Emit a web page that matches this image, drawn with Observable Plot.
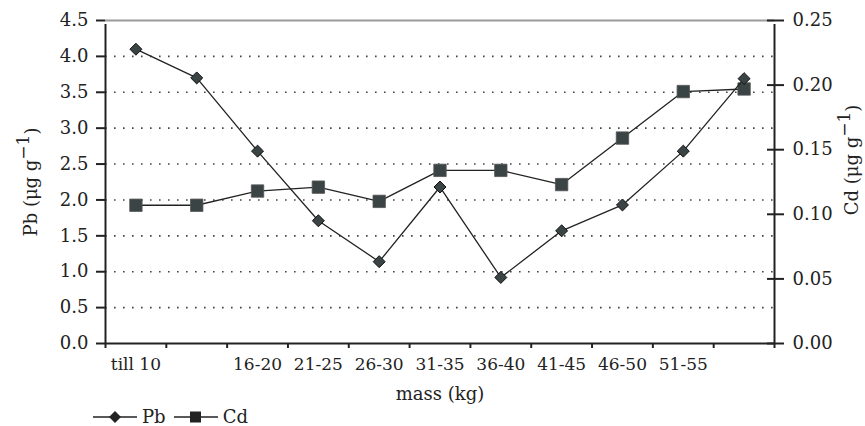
<!DOCTYPE html>
<html>
<head>
<meta charset="utf-8">
<script src="https://cdn.jsdelivr.net/npm/d3@7"></script>
<script src="https://cdn.jsdelivr.net/npm/@observablehq/plot@0.6"></script>
<style>
  html, body { margin: 0; padding: 0; background: #fff; }
  #legend { height: 18px; font-family: 'DejaVu Serif', serif; font-size: 18px; color: #222; display: flex; align-items: center; padding-left: 93px; }
  #legend span { margin: 0 8px 0 5px; line-height: 18px; }
</style>
</head>
<body>
<div id="chart"></div>
<div id="legend"></div>
<script>
const categories = ["till 10","11-15","16-20","21-25","26-30","31-35","36-40","41-45","46-50","51-55","56-60"];
const tickLabels = ["till 10","","16-20","21-25","26-30","31-35","36-40","41-45","46-50","51-55",""];
const pbValues = [4.1, 3.7, 2.68, 1.71, 1.14, 2.18, 0.92, 1.57, 1.93, 2.68, 3.69];
const cdValues = [0.107, 0.107, 0.118, 0.121, 0.110, 0.134, 0.134, 0.123, 0.159, 0.195, 0.197];
const pbTicks = [0, 0.5, 1.0, 1.5, 2.0, 2.5, 3.0, 3.5, 4.0, 4.5];
const cdTicks = [0, 0.05, 0.10, 0.15, 0.20, 0.25];
const unitLabels = {pb: "Pb (μg g⁻¹)", cd: "Cd (μg g⁻¹)"};
const pbMax = 4.5, cdMax = 0.25;
const k = pbMax / cdMax;

const rows = categories.map((c, i) => ({x: i + 0.5, name: c, pb: pbValues[i], cd: cdValues[i]}));
const boundaries = d3.range(categories.length + 1);
const centers = categories.map((c, i) => i + 0.5);

const ink = "#222";
const fillC = "#3a4444";
const blank = () => "";

const chart = Plot.plot({
  width: 865,
  height: 408,
  marginLeft: 105,
  marginRight: 91,
  marginTop: 20,
  marginBottom: 65,
  style: {fontFamily: "'DejaVu Serif', serif", fontSize: "17px", color: ink, background: "#fff"},
  x: {type: "linear", domain: [0, categories.length], label: null},
  y: {type: "linear", domain: [0, pbMax], label: null},
  marks: [
    Plot.gridY(pbTicks.filter(v => v > 0 && v < pbMax), {stroke: "#444", strokeOpacity: 1, strokeWidth: 1.6, strokeDasharray: "1.6,7.4"}),
    Plot.ruleY([pbMax], {stroke: "#9a9a9a", strokeWidth: 2}),
    Plot.ruleY([0], {stroke: ink, strokeWidth: 2}),
    Plot.ruleX([0, categories.length], {y1: 0, y2: pbMax, stroke: ink, strokeWidth: 2, insetBottom: -4}),
    Plot.axisX(boundaries, {tickSize: 5, stroke: ink, strokeWidth: 2, tickFormat: blank, label: null}),
    Plot.axisX(centers, {tickSize: 0, tickPadding: 14, fontSize: 17, tickFormat: d => tickLabels[Math.round(d - 0.5)], label: null}),
    Plot.axisY(pbTicks, {anchor: "left", tickSize: 9, tickPadding: 8, stroke: ink, strokeWidth: 2, fontSize: 18, tickFormat: d => d.toFixed(1), label: null}),
    Plot.axisY(cdTicks.map(v => v * k), {anchor: "right", tickSize: 17, dx: -8, stroke: ink, strokeWidth: 2, tickFormat: blank, label: null}),
    Plot.axisY(cdTicks.map(v => v * k), {anchor: "right", tickSize: 0, tickPadding: 18, fontSize: 18, tickFormat: d => (d / k).toFixed(2), label: null}),
    Plot.line(rows, {x: "x", y: d => d.cd * k, stroke: ink, strokeWidth: 1.3}),
    Plot.dot(rows, {x: "x", y: d => d.cd * k, symbol: "square", r: 7, fill: fillC, stroke: "#555", strokeWidth: 0.8}),
    Plot.line(rows, {x: "x", y: "pb", stroke: ink, strokeWidth: 1.3}),
    Plot.dot(rows, {x: "x", y: "pb", symbol: "diamond2", r: 5.4, fill: fillC, stroke: "#111", strokeWidth: 1}),
    Plot.text([unitLabels.pb], {text: d => d, frameAnchor: "left", textAnchor: "middle", dx: -74, rotate: -90, fontSize: 18, fill: ink}),
    Plot.text([unitLabels.cd], {text: d => d, frameAnchor: "right", textAnchor: "middle", dx: 78, dy: -22, rotate: -90, fontSize: 18, fill: ink}),
    Plot.text(["mass (kg)"], {text: d => d, frameAnchor: "bottom", dy: 56, fontSize: 18, fill: ink})
  ]
});
document.getElementById("chart").appendChild(chart);

// render the "-1" exponent as a raised, full-size superscript like the original
d3.select(chart).selectAll("text").each(function () {
  const t = this.textContent;
  if (t === unitLabels.pb || t === unitLabels.cd) {
    const base = t.replace("⁻¹)", "");
    const el = d3.select(this);
    el.text(null);
    el.append("tspan").text(base);
    el.append("tspan").attr("dy", "-0.5em").attr("font-size", 17).text("−1");
    el.append("tspan").attr("dy", "0.5em").text(")");
  }
});

// legend
const legend = document.getElementById("legend");
const series = [{name: "Pb", symbol: "diamond"}, {name: "Cd", symbol: "square"}];
series.forEach(s => {
  const svg = d3.create("svg").attr("width", 44).attr("height", 18);
  svg.append("line").attr("x1", 0).attr("x2", 44).attr("y1", 9).attr("y2", 9).attr("stroke", ink).attr("stroke-width", 1.5);
  if (s.symbol === "diamond") {
    svg.append("path").attr("d", "M22,3L28,9L22,15L16,9Z").attr("fill", ink);
  } else {
    svg.append("rect").attr("x", 16).attr("y", 3.5).attr("width", 11).attr("height", 11).attr("fill", ink);
  }
  legend.appendChild(svg.node());
  const sp = document.createElement("span");
  sp.textContent = s.name;
  legend.appendChild(sp);
});
</script>
</body>
</html>
